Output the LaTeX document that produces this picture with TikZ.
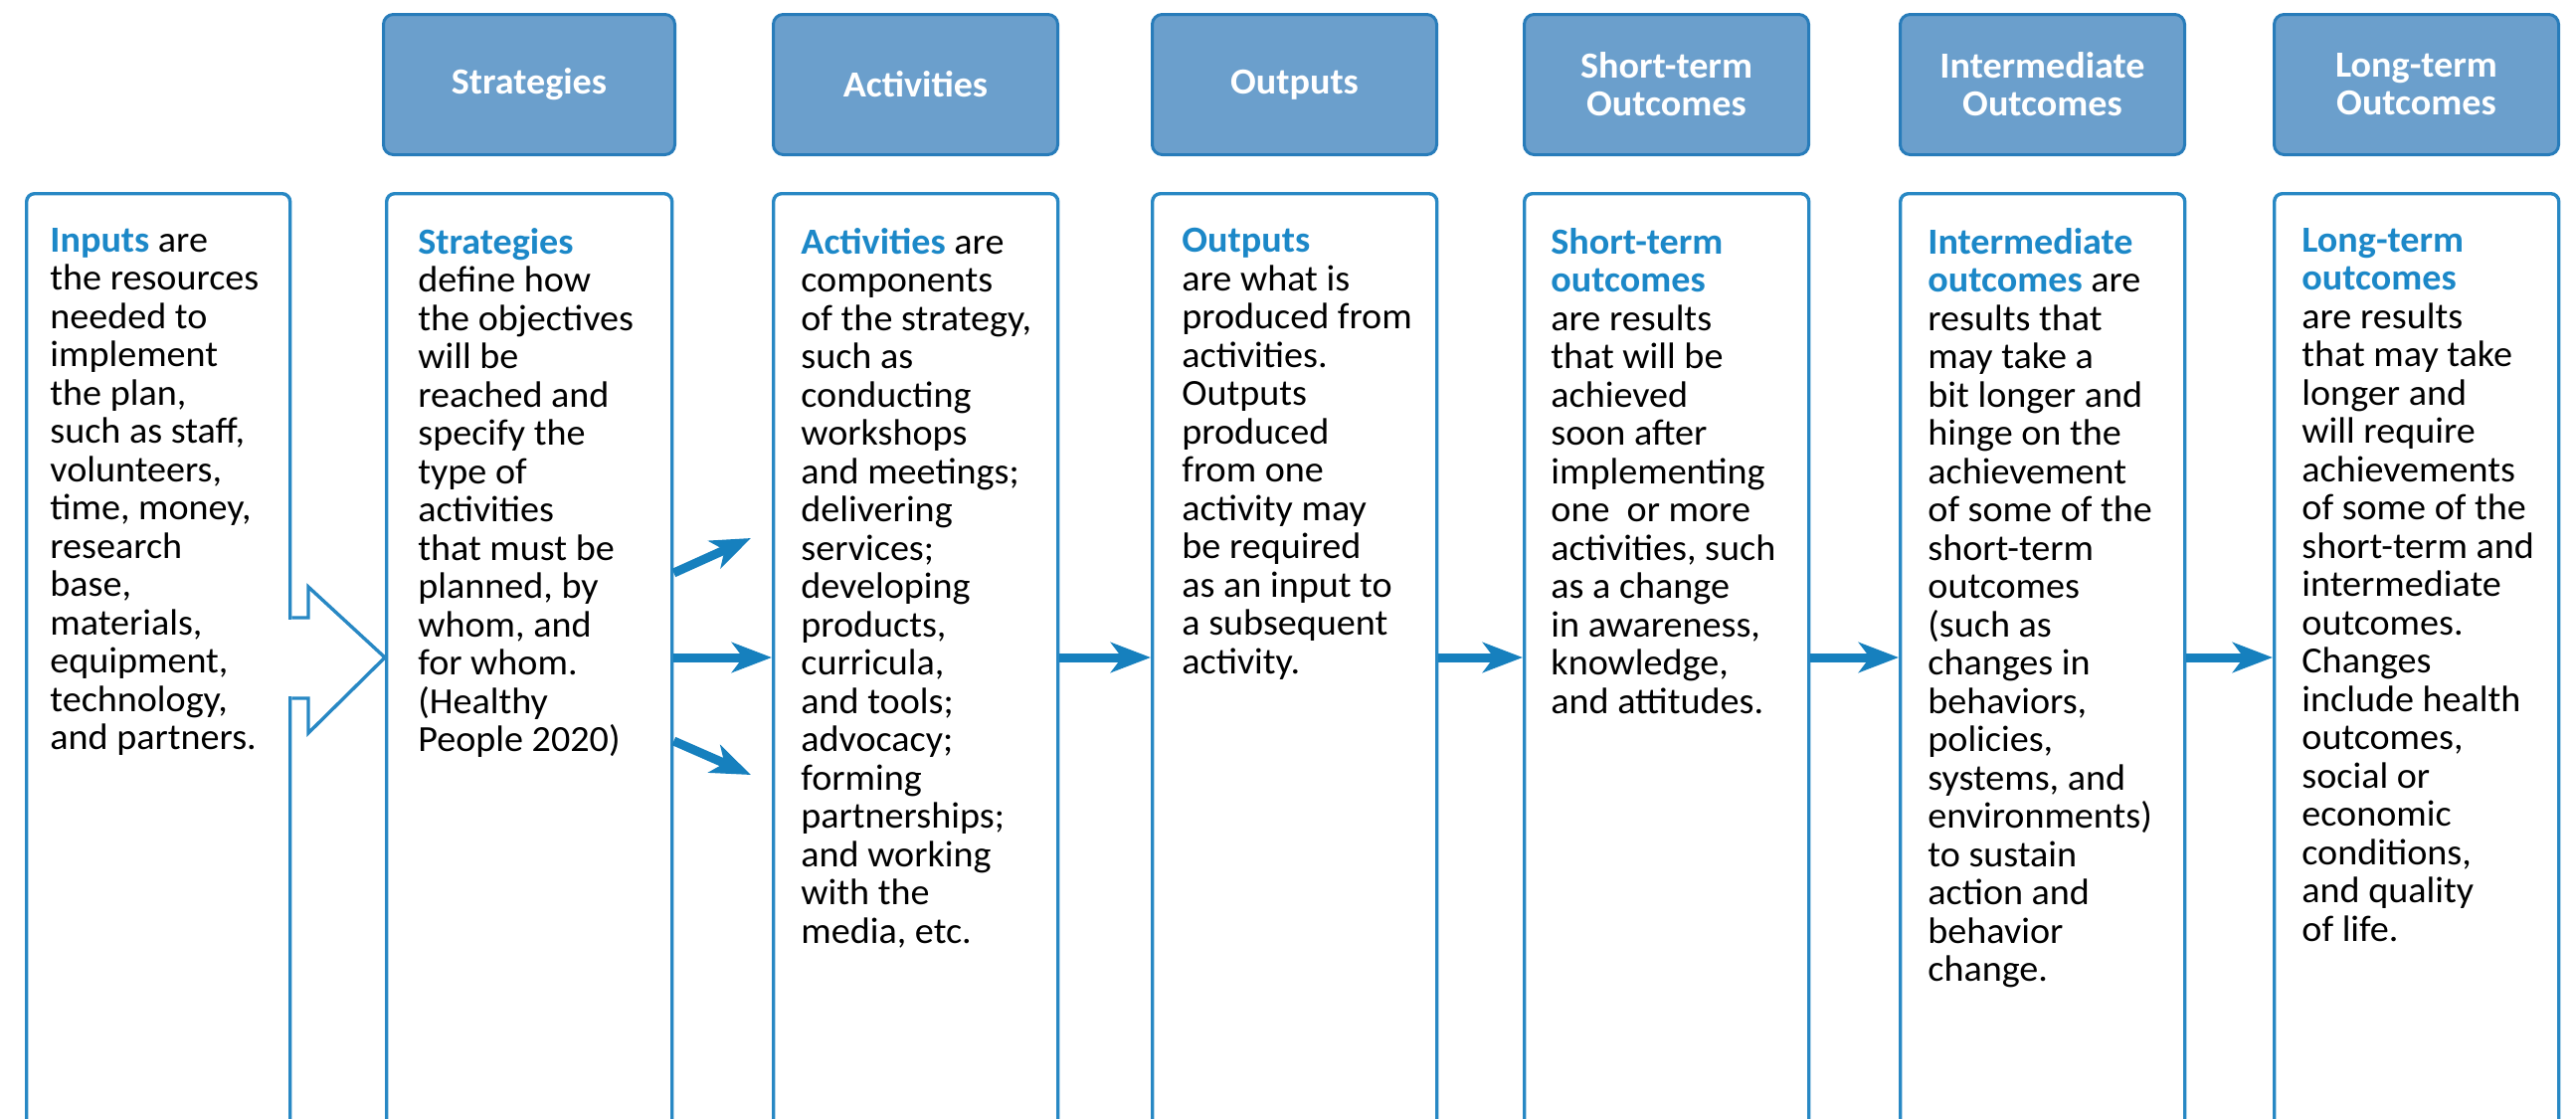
\documentclass[tikz,border=0pt]{standalone}
\usepackage{fontspec}
\setmainfont{Carlito}[FakeStretch=1.03]
\usetikzlibrary{arrows.meta,calc}
\definecolor{hdrfill}{RGB}{107,159,204}
\definecolor{hdrline}{RGB}{40,124,186}
\definecolor{boxline}{RGB}{40,136,196}
\definecolor{arrowblue}{RGB}{22,128,190}
\definecolor{termblue}{RGB}{28,136,200}
\newcommand{\tm}[1]{\textcolor{termblue}{\bfseries #1}}
\begin{document}
\begin{tikzpicture}[x=0.5pt,y=-0.5pt,
  hdr/.style={draw=hdrline, fill=hdrfill, line width=1.5pt, rounded corners=5pt,
    text=white, font=\bfseries\fontsize{18.5}{19}\selectfont, align=center,
    minimum height=70.5pt, minimum width=143pt, inner sep=0pt, anchor=north west},
  cbox/.style={draw=boxline, fill=white, line width=1.7pt, rounded corners=4pt,
    minimum height=505pt, minimum width=143pt, inner sep=0pt, anchor=north west},
  ctext/.style={anchor=north west, align=left, inner sep=0pt,
    font=\fontsize{18.5}{19.25}\selectfont, text=black},
  flow/.style={-{Stealth[length=20pt,width=15pt,inset=5.5pt]}, line width=4.5pt, draw=arrowblue},
  hollow/.style={draw=boxline, fill=white, line width=1.7pt, line join=miter}
]
\useasboundingbox (0,0) rectangle (2590,1124);

% header boxes
\node[hdr, minimum width=146.5pt] (hstrat) at (384,13) {Strategies};
\node[hdr] (hact) at (776,13) {Activities};
\node[hdr] (hout) at (1157,13) {Outputs};
\node[hdr] (hshort) at (1531,13) {Short-term\\Outcomes};
\node[hdr] (hinter) at (1909,13) {Intermediate\\Outcomes};
\node[hdr] (hlong) at (2285,13) {Long-term\\Outcomes};

% content boxes
\node[cbox, minimum width=132.5pt] (inbox) at (25,193) {};
\node[cbox, minimum width=143.5pt] (stratbox) at (387,193) {};
\node[cbox] (actbox) at (776,193) {};
\node[cbox] (outbox) at (1157,193) {};
\node[cbox] (shortbox) at (1531,193) {};
\node[cbox] (interbox) at (1909,193) {};
\node[cbox] (longbox) at (2285,193) {};

% texts
\node[ctext] (intext) at (50,229) {\tm{Inputs} are\\the resources\\needed to\\implement\\the plan,\\such as staff,\\volunteers,\\time, money,\\research\\base,\\materials,\\equipment,\\technology,\\and partners.};
\node[ctext] (strattext) at (420,229) {\tm{Strategies}\\define how\\the objectives\\will be\\reached and\\specify the\\type of\\activities\\that must be\\planned, by\\whom, and\\for whom.\\(Healthy\\People 2020)};
\node[ctext] (acttext) at (805,229) {\tm{Activities} are\\components\\of the strategy,\\such as\\conducting\\workshops\\and meetings;\\delivering\\services;\\developing\\products,\\curricula,\\and tools;\\advocacy;\\forming\\partnerships;\\and working\\with the\\media, etc.};
\node[ctext] (outtext) at (1188,229) {\tm{Outputs}\\are what is\\produced from\\activities.\\Outputs\\produced\\from one\\activity may\\be required\\as an input to\\a subsequent\\activity.};
\node[ctext] (shorttext) at (1559,229) {\tm{Short-term}\\\tm{outcomes}\\are results\\that will be\\achieved\\soon after\\implementing\\one~ or more\\activities, such\\as a change\\in awareness,\\knowledge,\\and attitudes.};
\node[ctext] (intertext) at (1938,229) {\tm{Intermediate}\\\tm{outcomes} are\\results that\\may take a\\bit longer and\\hinge on the\\achievement\\of some of the\\short-term\\outcomes\\(such as\\changes in\\behaviors,\\policies,\\systems, and\\environments)\\to sustain\\action and\\behavior\\change.};
\node[ctext] (longtext) at (2314,229) {\tm{Long-term}\\\tm{outcomes}\\are results\\that may take\\longer and\\will require\\achievements\\of some of the\\short-term and\\intermediate\\outcomes.\\Changes\\include health\\outcomes,\\social or\\economic\\conditions,\\and quality\\of life.};

% reference coordinates
\coordinate (mid) at (0,661);
\coordinate (sT) at (0,621);
\coordinate (sB) at (0,702);
\coordinate (hT) at (0,590);
\coordinate (hB) at (0,737);
\coordinate (hbx) at (310,0);
\coordinate (fanup) at (0,576);
\coordinate (fandn) at (0,745);
\coordinate (upend) at (755,541);
\coordinate (dnend) at (755,779);

% hollow block arrow inputs -> strategies
\fill[white] ($(inbox.east |- sT)+(-3,2)$) rectangle ($(hbx |- sB)+(0,-2)$);
\filldraw[hollow] (inbox.east |- sT) -- (hbx |- sT) -- (hbx |- hT) -- (stratbox.west |- mid)
  -- (hbx |- hB) -- (hbx |- sB) -- (inbox.east |- sB);

% fan arrows strategies -> activities
\draw[flow] (stratbox.east |- fanup) -- (upend);
\draw[flow] (stratbox.east |- mid) -- (actbox.west |- mid);
\draw[flow] (stratbox.east |- fandn) -- (dnend);

% chain arrows
\draw[flow] (actbox.east |- mid) -- (outbox.west |- mid);
\draw[flow] (outbox.east |- mid) -- (shortbox.west |- mid);
\draw[flow] (shortbox.east |- mid) -- (interbox.west |- mid);
\draw[flow] (interbox.east |- mid) -- (longbox.west |- mid);
\end{tikzpicture}
\end{document}
